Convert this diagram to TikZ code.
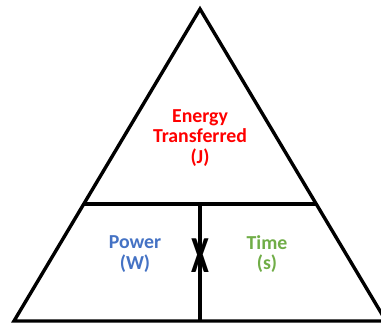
\documentclass[tikz,border=0pt]{standalone}
\usepackage{fontspec}
\setmainfont{Carlito}
\usetikzlibrary{calc}
\definecolor{ered}{HTML}{FF0000}
\definecolor{pblue}{HTML}{4472C4}
\definecolor{tgreen}{HTML}{70AD47}
\begin{document}
\begin{tikzpicture}[x=1pt,y=-1pt,
  edge/.style={line width=3.4pt,line join=miter,black},
  lbl/.style={align=center,font=\fontsize{19.8}{20.5}\selectfont\bfseries,inner sep=0pt}]
\useasboundingbox (0,0) rectangle (381,322);
\begin{scope}
\clip (0,0) rectangle (381,322);
\coordinate (apex) at (200,9);
\coordinate (bl) at (14,321);
\coordinate (br) at (386,321);
\coordinate (ml) at ($(apex)!0.625!(bl)$);
\coordinate (mr) at ($(apex)!0.625!(br)$);
\coordinate (mc) at (200,204);
\coordinate (bc) at (200,321);
\draw[edge] (bl) -- (apex) -- (br) -- cycle;
\draw[edge] (ml) -- (mr);
\draw[edge] (mc) -- (bc);
\end{scope}
\node[lbl,text=ered] (energy) at (200,138) {Energy\\Transferred\\(J)};
\node[lbl,text=pblue] (power) at (135,254) {Power\\(W)};
\node[lbl,text=tgreen] (time) at (267,254) {Time\\(s)};
\node[inner sep=0pt,font=\fontsize{52}{52}\selectfont\bfseries] (x) at (200,256) {\scalebox{0.62}[1]{X}};
\end{tikzpicture}
\end{document}
